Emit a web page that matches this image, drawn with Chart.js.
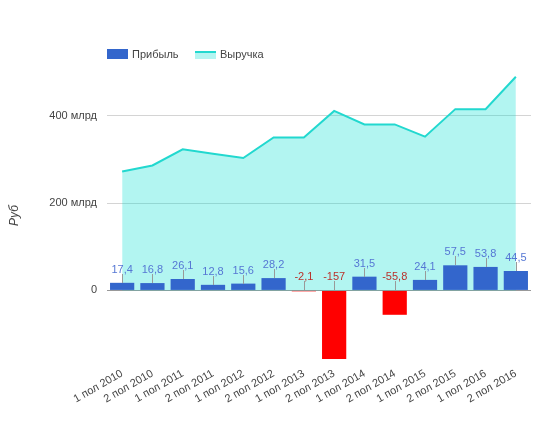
<!DOCTYPE html>
<html lang="ru">
<head>
<meta charset="utf-8">
<title>Прибыль и выручка</title>
<script src="https://cdn.jsdelivr.net/npm/chart.js@4/dist/chart.umd.min.js"></script>
<style>
  html, body { margin: 0; padding: 0; background: #fff; }
  #wrap { width: 550px; height: 425px; }
</style>
</head>
<body>
<div id="wrap"><canvas id="chart" width="550" height="425"></canvas></div>
<script>
const periods = [
  '1 пол 2010', '2 пол 2010', '1 пол 2011', '2 пол 2011', '1 пол 2012', '2 пол 2012', '1 пол 2013',
  '2 пол 2013', '1 пол 2014', '2 пол 2014', '1 пол 2015', '2 пол 2015', '1 пол 2016', '2 пол 2016',
];
// млрд руб
const profit = [17.4, 16.8, 26.1, 12.8, 15.6, 28.2, -2.1, -157, 31.5, -55.8, 24.1, 57.5, 53.8, 44.5];
const revenue = [272, 286, 323, 313, 303, 350, 350, 411, 380, 380, 352, 415, 415, 489];
const yTicks = [0, 200, 400];
const seriesNames = ['Прибыль', 'Выручка'];

const BLUE = '#3366cc';
const RED = '#ff0000';
const CYAN = '#22d8cf';
const CYAN_FILL = 'rgba(0, 222, 208, 0.3)';
const FONT = 'Arial, "Liberation Sans", sans-serif';
const TEXT = '#444';

Chart.defaults.font.family = FONT;
Chart.defaults.color = TEXT;

const fmt = (v) => String(v).replace('.', ',');

// legend drawn by hand so it lines up with the plot's left edge
const legendPlugin = {
  id: 'topLegend',
  afterDraw(chart) {
    const { ctx, chartArea } = chart;
    const x0 = chartArea.left;
    const cy = 54;
    ctx.save();
    ctx.font = `11px ${FONT}`;
    ctx.textBaseline = 'middle';
    ctx.fillStyle = BLUE;
    ctx.fillRect(x0, cy - 5, 21, 10);
    ctx.fillStyle = TEXT;
    ctx.fillText(seriesNames[0], x0 + 25, cy + 1);

    const x1 = x0 + 88;
    ctx.fillStyle = CYAN_FILL;
    ctx.fillRect(x1, cy - 2, 21, 7);
    ctx.strokeStyle = CYAN;
    ctx.lineWidth = 2;
    ctx.beginPath();
    ctx.moveTo(x1, cy - 2);
    ctx.lineTo(x1 + 21, cy - 2);
    ctx.stroke();
    ctx.fillStyle = TEXT;
    ctx.fillText(seriesNames[1], x1 + 25, cy + 1);
    ctx.restore();
  },
};

// value labels with a short stem above each bar
const annotationPlugin = {
  id: 'barAnnotations',
  afterDatasetsDraw(chart) {
    const { ctx } = chart;
    const meta = chart.getDatasetMeta(0);
    const yScale = chart.scales.y;
    ctx.save();
    ctx.font = `11px ${FONT}`;
    ctx.textAlign = 'center';
    ctx.textBaseline = 'middle';
    meta.data.forEach((bar, i) => {
      const v = profit[i];
      const base = Math.round(yScale.getPixelForValue(Math.max(v, 0)));
      const x = Math.round(bar.x) + 0.5;
      ctx.strokeStyle = '#999';
      ctx.lineWidth = 1;
      ctx.beginPath();
      ctx.moveTo(x, base);
      ctx.lineTo(x, base - 9);
      ctx.stroke();
      ctx.fillStyle = v < 0 ? '#b8322c' : '#5577d4';
      ctx.fillText(fmt(v), bar.x, base - 13.5);
    });
    ctx.restore();
  },
};

new Chart(document.getElementById('chart'), {
  type: 'bar',
  data: {
    labels: periods,
    datasets: [
      {
        label: seriesNames[0],
        data: profit,
        backgroundColor: profit.map((v) => (v < 0 ? RED : BLUE)),
        borderWidth: 0,
        categoryPercentage: 1,
        barPercentage: 0.8,
        order: 0,
      },
      {
        type: 'line',
        label: seriesNames[1],
        data: revenue,
        borderColor: CYAN,
        backgroundColor: CYAN_FILL,
        borderWidth: 2,
        pointRadius: 0,
        tension: 0,
        fill: 'origin',
        order: 1,
      },
    ],
  },
  options: {
    responsive: false,
    animation: false,
    devicePixelRatio: 1,
    layout: { padding: { top: 72, right: 19, bottom: 0, left: 0 } },
    plugins: {
      legend: { display: false },
      tooltip: { enabled: false },
    },
    scales: {
      x: {
        grid: { display: false },
        border: { display: false },
        ticks: {
          autoSkip: false,
          maxRotation: 30,
          minRotation: 30,
          padding: 0,
          font: { size: 11 },
          color: TEXT,
        },
        afterFit: (scale) => { scale.height = 66; },
      },
      y: {
        min: -157,
        max: 500,
        afterBuildTicks: (scale) => { scale.ticks = yTicks.map((value) => ({ value })); },
        grid: {
          drawTicks: false,
          color: (c) => (c.tick && c.tick.value === 0 ? '#999' : '#d4d4d4'),
        },
        border: { display: false },
        ticks: {
          padding: 10,
          font: { size: 11 },
          color: TEXT,
          callback: (v) => (v === 0 ? '0' : `${v} млрд`),
        },
        title: {
          display: true,
          text: 'Руб',
          color: TEXT,
          font: { size: 12, style: 'italic' },
          padding: { top: 7, bottom: 0 },
        },
        afterFit: (scale) => { scale.width = 107; },
      },
    },
  },
  plugins: [annotationPlugin, legendPlugin],
});
</script>
</body>
</html>
